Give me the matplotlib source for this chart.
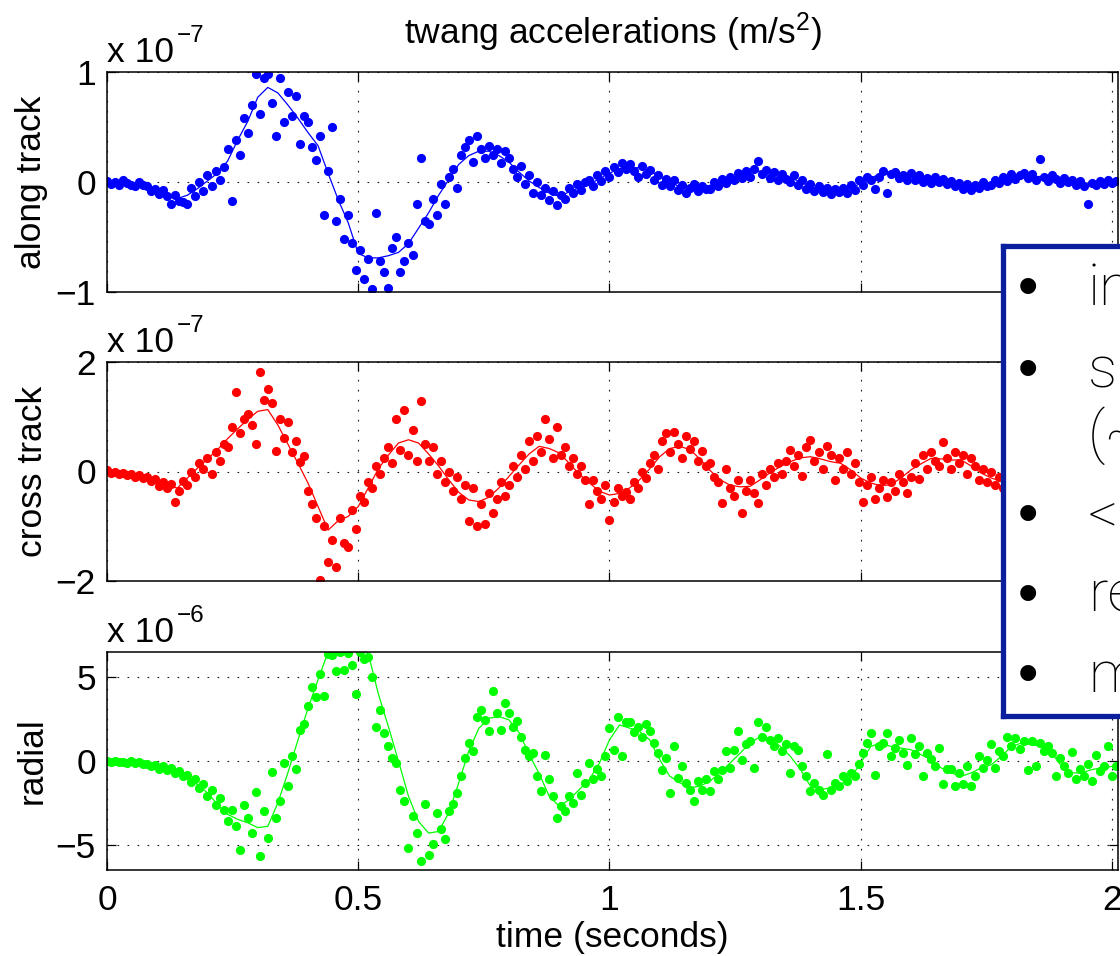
import numpy as np
import matplotlib
matplotlib.use("Agg")
from matplotlib import pyplot as plt

# Twang accelerations, in units of each panel's "x 10^n" label.
# samples every 8 ms, smoothed fit every 20 ms
t_pts = np.round(np.arange(252) * 0.008, 3)
t_fit = np.round(np.arange(101) * 0.02, 2)

along_pts = [
    0.01, -0.02, 0.0, -0.03, 0.02, -0.01, -0.03, -0.04, 0.0, -0.03,
    -0.04, -0.08, -0.06, -0.11, -0.07, -0.13, -0.20, -0.12, -0.17, -0.18,
    -0.20, -0.05, -0.13, 0.0, -0.08, 0.06, -0.04, 0.10, 0.02, 0.14,
    0.30, -0.17, 0.38, 0.25, 0.58, 0.45, 0.70, 0.98, 0.62, 0.95,
    0.98, 0.72, 0.42, 0.95, 0.55, 0.82, 0.60, 0.78, 0.35, 0.60,
    0.55, 0.32, 0.20, 0.42, -0.30, 0.10, 0.50, -0.35, -0.15, -0.52,
    -0.30, -0.55, -0.80, -0.62, -0.88, -0.70, -0.97, -0.28, -0.72, -0.82,
    -0.96, -0.60, -0.50, -0.82, -0.72, -0.55, -0.66, -0.20, 0.22, -0.35,
    -0.38, -0.15, -0.30, -0.02, -0.20, 0.05, 0.12, -0.05, 0.25, 0.32,
    0.38, 0.18, 0.42, 0.30, 0.22, 0.33, 0.25, 0.30, 0.17, 0.28,
    0.22, 0.12, 0.05, 0.15, -0.02, 0.06, -0.10, 0.0, -0.12, -0.05,
    -0.16, -0.08, -0.21, -0.12, -0.15, -0.05, -0.10, -0.02, -0.07, 0.0,
    0.02, -0.04, 0.06, 0.01, 0.10, 0.05, 0.14, 0.09, 0.17, 0.12,
    0.16, 0.10, 0.05, 0.15, 0.07, 0.11, 0.02, 0.06, -0.03, 0.03,
    -0.04, 0.02, -0.07, -0.03, -0.10, -0.05, -0.02, -0.08, -0.04, -0.06,
    -0.06, 0.0, -0.04, 0.03, -0.01, 0.05, 0.02, 0.08, 0.04, 0.10,
    0.05, 0.12, 0.19, 0.07, 0.11, 0.04, 0.09, 0.02, 0.07, 0.03,
    0.0, 0.06, -0.03, 0.02, -0.06, -0.02, -0.08, -0.04, -0.09, -0.05,
    -0.11, -0.06, -0.09, -0.05, -0.10, -0.03, -0.07, 0.02, -0.03, 0.05,
    0.02, -0.06, 0.05, 0.10, -0.10, 0.07, 0.09, 0.04, 0.06, 0.02,
    0.08, 0.02, 0.06, 0.0, 0.04, -0.01, 0.05, 0.0, 0.03, -0.02,
    0.01, -0.04, -0.01, -0.06, -0.02, -0.07, -0.03, -0.05, 0.0, -0.04,
    -0.03, 0.02, -0.01, 0.05, 0.01, 0.07, 0.03, 0.06, 0.08, 0.04,
    0.07, 0.02, 0.21, 0.05, 0.01, 0.06, 0.03, -0.01, 0.04, 0.0,
    0.02, -0.03, 0.01, -0.04, -0.20, -0.01, -0.03, 0.01, -0.02, 0.02,
    -0.01, 0.01,
]
along_fit = [
    0.0, -0.01, -0.02, -0.03, -0.05, -0.08, -0.12, -0.15, -0.12, -0.06,
    0.01, 0.08, 0.19, 0.38, 0.55, 0.77, 0.86, 0.81, 0.70, 0.58,
    0.45, 0.33, 0.08, -0.16, -0.37, -0.65, -0.69, -0.69, -0.67, -0.64,
    -0.56, -0.42, -0.28, -0.12, 0.02, 0.16, 0.24, 0.28, 0.28, 0.24,
    0.18, 0.09, 0.01, -0.05, -0.10, -0.13, -0.09, -0.05, -0.02, 0.03,
    0.08, 0.12, 0.13, 0.13, 0.10, 0.05, -0.01, -0.04, -0.05, -0.05,
    -0.03, -0.01, 0.02, 0.06, 0.09, 0.10, 0.08, 0.06, 0.04, 0.00,
    -0.04, -0.07, -0.08, -0.08, -0.06, -0.01, 0.04, 0.07, 0.07, 0.06,
    0.05, 0.03, 0.02, 0.01, -0.01, -0.03, -0.04, -0.03, -0.01, 0.02,
    0.04, 0.05, 0.05, 0.05, 0.03, 0.01, -0.01, -0.02, -0.02, -0.01,
    -0.01,
]

cross_pts = [
    0.02, -0.03, 0.0, -0.05, -0.02, -0.07, -0.04, -0.10, -0.06, -0.12,
    -0.10, -0.18, -0.13, -0.27, -0.20, -0.30, -0.22, -0.56, -0.35, -0.18,
    -0.25, 0.0, -0.10, 0.15, 0.05, 0.25, -0.05, 0.35, 0.20, 0.50,
    0.45, 0.82, 1.45, 0.70, 0.95, 1.05, 0.85, 0.50, 1.82, 1.30,
    1.50, 1.25, 0.37, 0.95, 0.62, 0.90, 0.35, 0.55, 0.18, 0.28,
    -0.35, -0.60, -0.85, -1.98, -1.00, -1.66, -1.25, -1.74, -0.85, -1.30,
    -1.38, -0.70, -1.05, -0.45, -0.55, -0.20, -0.30, 0.10, -0.05, 0.25,
    0.45, 0.15, 0.95, 0.40, 1.13, 0.30, 0.75, 0.20, 1.29, 0.50,
    0.20, 0.45, -0.05, 0.20, -0.20, 0.0, -0.35, -0.10, -0.50, -0.25,
    -0.90, -0.30, -1.00, -0.60, -0.95, -0.40, -0.75, -0.50, -0.20, -0.45,
    -0.25, 0.10, -0.10, 0.30, 0.05, 0.55, 0.20, 0.65, 0.35, 0.95,
    0.60, 0.25, 0.82, 0.30, 0.45, 0.10, 0.25, -0.05, 0.10, -0.15,
    -0.60, -0.15, -0.35, -0.50, -0.25, -0.88, -0.55, -0.30, -0.45, -0.38,
    -0.50, -0.20, -0.30, 0.0, -0.12, 0.15, 0.30, 0.05, 0.55, 0.70,
    0.35, 0.72, 0.50, 0.25, 0.65, 0.42, 0.55, 0.20, 0.38, 0.10,
    0.15, -0.10, -0.20, -0.58, 0.05, -0.30, -0.45, -0.15, -0.75, -0.35,
    -0.15, -0.40, -0.58, -0.05, -0.25, 0.05, -0.10, 0.15, -0.05, 0.20,
    0.40, 0.10, 0.30, -0.09, 0.45, 0.58, 0.20, 0.35, 0.05, 0.46,
    0.30, -0.15, 0.25, 0.05, 0.35, -0.05, 0.15, -0.20, -0.55, -0.25,
    -0.10, -0.50, -0.30, -0.15, -0.46, -0.20, -0.35, -0.05, -0.20, -0.40,
    -0.10, 0.15, -0.14, 0.30, 0.05, 0.35, 0.20, 0.10, 0.53, 0.25,
    0.05, 0.35, 0.15, 0.30, -0.05, 0.25, 0.10, -0.15, 0.05, -0.20,
    0.0, -0.25, -0.10, -0.30, -0.05, -0.20, 0.0, -0.15, 0.05, -0.10,
    0.15, -0.05, 0.25, 0.10, 0.30, 0.05, 0.20, 0.0, 0.15, 0.05,
    -0.10, 0.05, -0.20, -0.05, -0.25, -0.10, 0.0, -0.20, -0.05, -0.15,
    -0.02, 0.05,
]
cross_fit = [
    0.0, -0.02, -0.06, -0.10, -0.15, -0.21, -0.27, -0.30, -0.12, 0.06,
    0.23, 0.40, 0.60, 0.78, 0.95, 1.10, 1.13, 0.85, 0.50, 0.15,
    -0.21, -0.64, -1.07, -0.90, -0.82, -0.64, -0.30, 0.05, 0.30, 0.52,
    0.58, 0.52, 0.32, 0.10, -0.15, -0.38, -0.52, -0.55, -0.47, -0.30,
    -0.09, 0.12, 0.32, 0.46, 0.42, 0.34, 0.15, -0.05, -0.21, -0.36,
    -0.43, -0.40, -0.30, -0.15, 0.05, 0.27, 0.42, 0.46, 0.40, 0.23,
    0.02, -0.15, -0.25, -0.28, -0.27, -0.15, -0.02, 0.09, 0.18, 0.25,
    0.27, 0.23, 0.18, 0.15, 0.03, -0.12, -0.21, -0.26, -0.24, -0.12,
    0.03, 0.14, 0.24, 0.23, 0.21, 0.21, 0.10, -0.03, -0.12, -0.18,
    -0.15, -0.05, 0.06, 0.14, 0.16, 0.10, 0.00, -0.09, -0.13, -0.10,
    -0.04,
]

radial_pts = [
    0.0, -0.05, 0.02, -0.08, -0.03, -0.10, 0.0, -0.12, -0.06, -0.20,
    -0.15, -0.30, -0.22, -0.45, -0.30, -0.55, -0.40, -0.70, -0.60, -0.90,
    -0.85, -1.25, -1.05, -1.60, -1.40, -2.10, -1.75, -2.60, -2.20, -2.95,
    -3.60, -2.90, -3.90, -5.30, -2.60, -3.40, -4.30, -1.86, -5.65, -3.00,
    -4.60, -0.67, -3.40, -2.40, -0.12, -1.50, 0.32, -0.50, 1.86, 2.20,
    3.30, 4.43, 3.80, 5.20, 3.87, 6.40, 6.30, 5.37, 6.50, 5.40,
    6.45, 5.70, 3.99, 6.50, 6.10, 6.20, 5.00, 2.05, 3.04, 1.66,
    0.87, 0.20, -0.12, -1.70, -2.39, -5.16, -3.28, -4.27, -5.95, -2.59,
    -5.60, -4.96, -3.08, -4.07, -4.67, -2.98, -2.59, -1.90, -0.91, 0.18,
    1.07, 0.60, 2.65, 3.04, 2.45, 1.76, 4.19, 2.85, 1.86, 3.44,
    2.85, 2.05, 2.40, 1.46, 0.67, 0.28, 0.47, -0.91, -1.80, 0.38,
    -1.10, -2.10, -3.40, -2.70, -3.00, -2.10, -2.50, -0.71, -2.00, -1.30,
    -0.12, -1.10, -0.50, -0.91, 0.28, 1.96, 0.67, 2.65, 0.32, 2.30,
    2.35, 1.70, 2.05, 1.46, 2.20, 1.76, 1.07, 0.47, -0.51, 0.20,
    -1.90, 0.87, -1.00, -0.30, -1.30, -1.70, -2.39, -1.20, -1.70, -1.10,
    -1.80, -0.60, -1.10, -0.51, 0.57, -0.40, 0.67, 1.76, 0.08, 1.00,
    1.20, -0.41, 2.35, 1.46, 2.05, 1.26, 0.87, 1.36, 0.60, 1.00,
    -0.71, 0.87, 0.67, -0.30, -0.91, -1.80, -1.30, -1.70, -2.00, 0.43,
    -1.70, -1.30, -1.50, -0.91, -1.20, -0.70, -0.90, -0.20, 0.47, 1.07,
    1.66, -0.81, 0.90, 1.07, 1.66, 0.28, 0.75, 1.26, 0.50, -0.22,
    1.36, 0.40, 0.87, -0.91, 0.47, 0.10, -0.30, 0.77, -1.40, -0.50,
    -0.50, -1.50, -0.70, -1.40, -0.30, -1.50, -0.90, 0.28, -0.41, 0.08,
    1.03, -0.41, 0.57, 0.30, 1.46, 0.90, 1.36, 0.70, 1.20, -0.51,
    1.20, -0.32, 1.07, 0.60, 0.87, 0.47, -0.91, 0.20, -0.32, -0.70,
    0.51, -1.10, -0.50, -0.90, -0.20, -1.20, 0.38, -0.60, -0.30, 0.87,
    -0.90, -0.30,
]
radial_fit = [
    0.0, -0.02, -0.05, -0.10, -0.20, -0.32, -0.48, -0.68, -0.95, -1.40,
    -1.90, -2.59, -3.18, -3.48, -3.68, -3.97, -3.90, -2.50, -0.70, 1.25,
    3.15, 4.85, 6.50, 6.90, 7.00, 6.80, 6.40, 4.00, 2.05, 0.00,
    -2.10, -3.60, -4.30, -4.20, -3.10, -1.30, 0.60, 1.95, 2.55, 2.65,
    2.45, 1.70, 0.40, -0.75, -2.10, -2.70, -2.30, -1.70, -1.10, -0.12,
    1.26, 2.15, 1.96, 1.76, 1.26, 0.08, -0.91, -1.30, -1.60, -1.50,
    -1.20, -0.71, -0.12, 0.47, 1.07, 1.46, 1.26, 0.87, 0.28, -0.51,
    -1.50, -1.70, -1.60, -1.40, -1.00, -0.12, 0.87, 1.07, 0.87, 0.77,
    0.67, 0.38, 0.08, -0.41, -0.71, -0.91, -0.71, -0.41, -0.22, 0.28,
    0.87, 1.07, 0.97, 0.87, 0.47, -0.32, -0.71, -0.71, -0.51, -0.41,
    -0.32,
]

panel_names = ['along track', 'cross track', 'radial']
panel_exponents = ['\u22127', '\u22127', '\u22126']
panel_colors = ['#0000ff', '#ff0000', '#00ff00']
panel_ylims = [(-1, 1), (-2, 2), (-6.5, 6.5)]
panel_yticks = [[-1, 0, 1], [-2, 0, 2], [-5, 0, 5]]
xticks = [0, 0.5, 1, 1.5, 2]
xtick_labels = ['0', '0.5', '1', '1.5', '2']
bullet_lines = ['in', 's', '(~', '<', 're', 'm']
bullet_marks = [True, True, False, True, True, True]

pts = [along_pts, cross_pts, radial_pts]
fits = [along_fit, cross_fit, radial_fit]

plt.rcParams['font.family'] = ['Liberation Sans', 'DejaVu Sans']
plt.rcParams['mathtext.fontset'] = 'custom'
plt.rcParams['mathtext.rm'] = 'Liberation Sans'
plt.rcParams['mathtext.it'] = 'Liberation Sans:italic'
plt.rcParams['mathtext.bf'] = 'Liberation Sans:bold'

W, H = 1120.0, 956.0
fig = plt.figure(figsize=(W / 100, H / 100), dpi=100)
renderer = fig.canvas.get_renderer()

left, right = 107, 1118
rows = [(72, 292), (362, 581), (652, 870)]
fs = 25.5
grid_style = dict(color='0.1', linestyle=(0, (1.5, 7.5)), linewidth=0.8)

axes = []
for i, (top, bot) in enumerate(rows):
    ax = fig.add_axes([left / W, 1 - bot / H, (right - left) / W, (bot - top) / H])
    ax.plot(t_pts, pts[i], 'o', ms=6.6, color=panel_colors[i], mec='none')
    ax.plot(t_fit, fits[i], '-', lw=0.9, color=panel_colors[i])
    ax.set_xlim(0, 2.012)
    ax.set_ylim(*panel_ylims[i])
    ax.set_xticks(xticks)
    ax.set_yticks(panel_yticks[i])
    ax.grid(True, **grid_style)
    ax.tick_params(direction='in', length=6.5, width=0.9, top=True, right=True,
                   labelsize=fs, color='black')
    ax.tick_params(axis='y', pad=8)
    ax.tick_params(axis='x', pad=10)
    for s in ax.spines.values():
        s.set_linewidth(1.1)
    if i < 2:
        ax.tick_params(labelbottom=False)
    else:
        ax.set_xticklabels(xtick_labels)

    # MATLAB-style exponent label above the top-left corner
    base = fig.text(left / W, 1 - (top - 10) / H, 'x 10', ha='left', va='baseline',
                    fontsize=fs)
    x_end = base.get_window_extent(renderer).x1
    fig.text((x_end + 3) / W, 1 - (top - 30) / H, panel_exponents[i], ha='left',
             va='baseline', fontsize=17.5)

    fig.text(32 / W, 1 - (top + bot) / 2 / H, panel_names[i], rotation=90,
             ha='center', va='center', fontsize=fs)
    axes.append(ax)

axes[0].set_title('twang accelerations (m/s$^2$)', fontsize=fs, pad=20)
fig.text(612 / W, 1 - 947 / H, 'time (seconds)', ha='center', va='baseline', fontsize=fs)

# slide text box laid over the right edge
box = fig.add_axes([1002.5 / W, 1 - 715.5 / H, 0.2, (715.5 - 245.5) / H])
box.set_zorder(5)
box.set_facecolor('white')
box.set_xticks([])
box.set_yticks([])
for s in box.spines.values():
    s.set_color('#0a1f9e')
    s.set_linewidth(3.8)

baselines = [305, 387, 452, 532, 612, 692]
for txt, has_bullet, y in zip(bullet_lines, bullet_marks, baselines):
    box.text(1088 / W, 1 - y / H, txt, transform=fig.transFigure, ha='left', va='baseline',
             fontsize=42, family=['Roboto', 'Liberation Sans'], fontweight='light')
    if has_bullet:
        box.text(1028 / W, 1 - y / H, '\u2022', transform=fig.transFigure,
                 ha='center', va='baseline', fontsize=42)

fig.savefig('out.png', dpi=100)
